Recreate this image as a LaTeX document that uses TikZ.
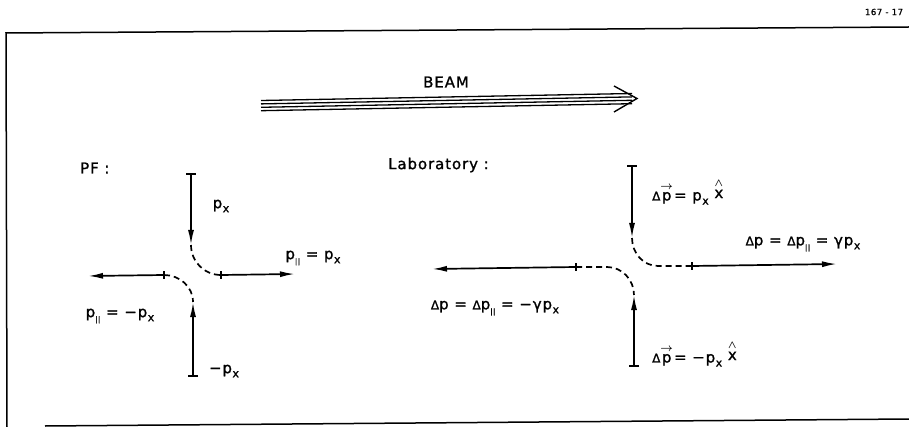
\documentclass[tikz,border=0pt]{standalone}
\usepackage{amsmath}
\usepackage{fontspec}
\setmainfont[LetterSpace=6,FakeBold=1.2]{DejaVu Sans}
\usetikzlibrary{arrows.meta}
\newcommand{\Dlt}{{\fontsize{12}{12}\selectfont Δ}}
\newcommand{\pxs}{p\kern0.5pt\raisebox{-0.5ex}{\fontsize{11}{11}\selectfont x}}
\newcommand{\parsub}{\raisebox{-0.55ex}{\fontsize{7}{7}\selectfont ||}}
\newcommand{\pvec}{$\overset{\boldsymbol{\rightarrow}}{\text{p}}$}
\newcommand{\xhat}{\raisebox{0.3ex}{$\overset{\boldsymbol{\wedge}}{\text{x}}$}}
\begin{document}
\begin{tikzpicture}[x=1pt,y=-1pt,
  lbl/.style={font=\fontsize{15}{17}\selectfont, inner sep=0pt},
  vec/.style={line width=1.7pt, {Bar[width=10pt,line width=2pt]}-{Latex[length=15pt,width=6pt]}},
  hor/.style={line width=1.7pt, -{Latex[length=15pt,width=6pt]}},
  tick/.style={line width=1.4pt},
  dsh/.style={line width=1.7pt, dash pattern=on 6pt off 4pt},
  frame/.style={line width=1.5pt},
  beamline/.style={line width=1.3pt}]
\useasboundingbox (0,0) rectangle (909,427);
% frame
\coordinate (fa) at (6,33);
\coordinate (fb) at (909,27);
\coordinate (fc) at (7,427);
\coordinate (fd) at (45,426);
\coordinate (fe) at (909,419);
\draw[frame] (fb) -- (fa) -- (fc);
\draw[frame] (fd) -- (fe);
\node[font=\fontsize{8.5}{9}\selectfont, inner sep=0pt] (fig) at (884,12) {167 - 17};
% beam
\node[lbl] (beam) at (446,82) {BEAM};
\foreach \i in {0,1,2,3}{
  \coordinate (bl\i) at (261,{100.5+3.4*\i});
  \coordinate (br\i) at (632,{93.5+3.4*\i});
  \draw[beamline] (bl\i) -- (br\i);
}
\coordinate (btip) at (637,98.5);
\coordinate (bu) at (614,86);
\coordinate (bd) at (614,112);
\draw[line width=1.4pt] (bu) -- (btip) -- (bd);
% PF
\node[lbl, anchor=west] (pf) at (80,168) {PF :};
\coordinate (p1) at (191,173);
\coordinate (p2) at (191,245);
\coordinate (p3) at (221,275);
\coordinate (p4) at (295,274);
\coordinate (q1) at (164,275);
\coordinate (q2) at (88,276);
\coordinate (q3) at (193,302);
\coordinate (q4) at (193,377);
\draw[vec] (p1) -- (p2);
\draw[dsh] (p2) to[out=-90,in=180] (p3);
\draw[hor] (p3) -- (p4);
\draw[tick] ([yshift=-4pt]p3) -- ([yshift=4pt]p3);
\draw[hor] (q1) -- (q2);
\draw[tick] ([yshift=-4pt]q1) -- ([yshift=4pt]q1);
\draw[dsh] (q1) to[out=0,in=90] (q3);
\draw[vec] (q4) -- (q3);
\node[lbl] (l1) at (221,206) {\pxs};
\node[lbl] (l2) at (313,258) {p\parsub\ = \pxs};
\node[lbl] (l3) at (120,316) {p\parsub\ = −\pxs};
\node[lbl] (l4) at (224,371) {−\pxs};
% Laboratory
\node[lbl, anchor=west] (lab) at (388,165) {Laboratory :};
\coordinate (r1) at (632,165);
\coordinate (r2) at (632,238);
\coordinate (r3) at (658,266);
\coordinate (r4) at (692,266);
\coordinate (r5) at (837,264);
\coordinate (s1) at (576,267);
\coordinate (s2) at (432,269);
\coordinate (s3) at (607,267);
\coordinate (s4) at (634,295);
\coordinate (s5) at (634,367);
\draw[vec] (r1) -- (r2);
\draw[dsh] (r2) to[out=-90,in=180] (r3) -- (r4);
\draw[hor] (r4) -- (r5);
\draw[tick] ([yshift=-4pt]r4) -- ([yshift=4pt]r4);
\draw[hor] (s1) -- (s2);
\draw[tick] ([yshift=-4pt]s1) -- ([yshift=4pt]s1);
\draw[dsh] (s1) -- (s3) to[out=0,in=90] (s4);
\draw[vec] (s5) -- (s4);
\node[lbl, anchor=west] (m1) at (652,192) {\Dlt\pvec\kern1pt= \pxs\ \xhat};
\node[lbl] (m2) at (803,244) {\Dlt p = \Dlt p\parsub\ = γ\pxs};
\node[lbl] (m3) at (495,308) {\Dlt p = \Dlt p\parsub\ = −γ\pxs};
\node[lbl, anchor=west] (m4) at (652,354) {\Dlt\pvec\kern1pt= −\pxs\ \xhat};
\end{tikzpicture}
\end{document}
